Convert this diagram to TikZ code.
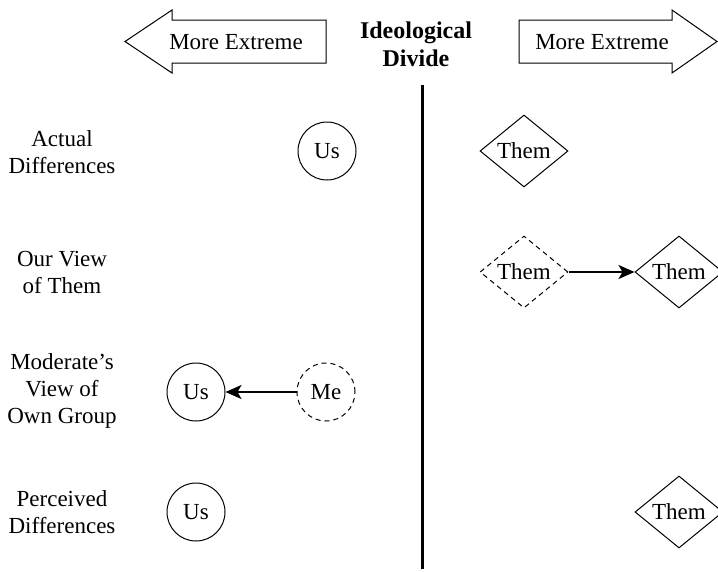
\documentclass[tikz,border=0pt]{standalone}
\usepackage{fontspec}
\setmainfont{Liberation Serif}
\usetikzlibrary{shapes.geometric,arrows.meta}
\begin{document}
\begin{tikzpicture}[x=1pt,y=-1pt,
  every node/.style={font=\fontsize{23}{27}\selectfont},
  lbl/.style={align=center},
  grp/.style={circle,draw,line width=1pt,minimum size=58pt,inner sep=0pt},
  oth/.style={diamond,draw,line width=1pt,minimum width=88pt,minimum height=72pt,inner sep=0pt,aspect=1.22},
  ghost/.style={dashed,dash pattern=on 5pt off 4pt},
  bigarrow/.style={draw,line width=1pt,fill=white},
  pull/.style={line width=2pt,-{Stealth[length=16pt,width=14pt,inset=4pt]}}]
\useasboundingbox (0,0) rectangle (718,571);
\begin{scope}
\clip (0,0) rectangle (718,571);
% header arrows
\draw[bigarrow] (125,41.5) -- (172,10) -- (172,20) -- (326,20) -- (326,63) -- (172,63) -- (172,73) -- cycle;
\node (lext) at (236,42) {More Extreme};
\draw[bigarrow] (519,20) -- (672,20) -- (672,10) -- (717,41.5) -- (672,73) -- (672,63) -- (519,63) -- cycle;
\node (rext) at (602,42) {More Extreme};
\node[lbl,font=\fontsize{24}{28}\selectfont\bfseries] (divide) at (416,44) {Ideological\\Divide};
% divide line
\coordinate (ltop) at (422,85);
\coordinate (lbot) at (422,569);
\draw[line width=3pt] (ltop) -- (lbot);
% row labels
\node[lbl] (r1) at (62,152) {Actual\\Differences};
\node[lbl] (r2) at (62,272) {Our View\\of Them};
\node[lbl] (r3) at (62,391) {Moderate's\\View of\\Own Group};
\node[lbl] (r4) at (62,512) {Perceived\\Differences};
% row 1
\node[grp] (us1) at (327,151) {Us};
\node[oth] (them1) at (524,151) {Them};
% row 2
\node[oth,ghost] (them2a) at (524,272) {Them};
\node[oth] (them2b) at (679,272) {Them};
\draw[pull] (them2a) -- (them2b);
% row 3
\node[grp] (us3) at (196,392) {Us};
\node[grp,ghost] (me3) at (326,392) {Me};
\draw[pull] (me3) -- (us3);
% row 4
\node[grp] (us4) at (196,512) {Us};
\node[oth] (them4) at (679,512) {Them};
\end{scope}
\end{tikzpicture}
\end{document}
